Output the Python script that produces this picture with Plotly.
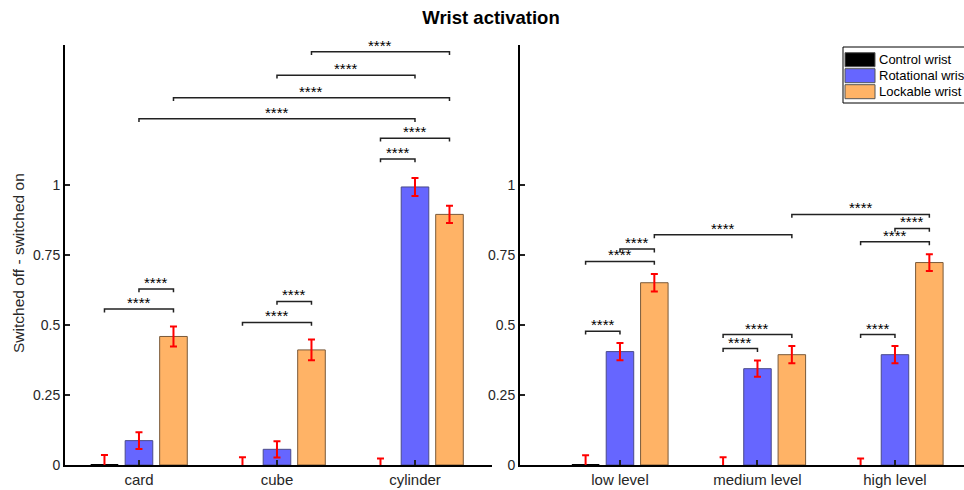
import plotly.graph_objects as go

# ---------------- data ----------------
left_categories = ["card", "cube", "cylinder"]
right_categories = ["low level", "medium level", "high level"]
series_names = ["Control wrist", "Rotational wrist", "Lockable wrist"]

left_control = [0.003, 0.0, 0.0]
left_control_err = [0.033, 0.028, 0.023]
left_rotational = [0.087, 0.056, 0.993]
left_rotational_err = [0.030, 0.029, 0.032]
left_lockable = [0.459, 0.411, 0.895]
left_lockable_err = [0.036, 0.037, 0.031]

right_control = [0.003, 0.0, 0.0]
right_control_err = [0.032, 0.028, 0.023]
right_rotational = [0.405, 0.344, 0.394]
right_rotational_err = [0.031, 0.029, 0.031]
right_lockable = [0.651, 0.394, 0.723]
right_lockable_err = [0.031, 0.031, 0.030]

# significance brackets: (group_a, series_a, group_b, series_b, height)
left_sig = [
    (2, 2, 3, 2, 1.476), (2, 1, 3, 1, 1.392), (1, 2, 3, 2, 1.312),
    (1, 1, 3, 1, 1.237), (3, 0, 3, 2, 1.167), (3, 0, 3, 1, 1.093),
    (1, 1, 1, 2, 0.629), (1, 0, 1, 2, 0.557), (2, 1, 2, 2, 0.584),
    (2, 0, 2, 2, 0.509),
]
right_sig = [
    (2, 2, 3, 2, 0.895), (3, 1, 3, 2, 0.845), (3, 0, 3, 2, 0.797),
    (1, 2, 2, 2, 0.822), (1, 1, 1, 2, 0.771), (1, 0, 1, 2, 0.727),
    (1, 0, 1, 1, 0.478), (2, 0, 2, 2, 0.466), (2, 0, 2, 1, 0.416),
    (3, 0, 3, 1, 0.466),
]
sig_label = "****"

y_tickvals = [0, 0.25, 0.5, 0.75, 1]
y_ticktext = ["0", "0.25", "0.5", "0.75", "1"]

# ---------------- styling ----------------
W, H = 964, 490
FONT = "Liberation Sans, Arial, sans-serif"
colors = ["#000000", "#6666FF", "#FFB366"]
edge_colors = ["#000000", "#4a4a8a", "#7a5a3a"]
edge_widths = [0, 1, 1]
offset = 0.25
bar_w = 0.2
tick_h = 0.012

fig = go.Figure()

panels = [
    ("x", "y", left_categories,
     [left_control, left_rotational, left_lockable],
     [left_control_err, left_rotational_err, left_lockable_err], left_sig),
    ("x2", "y2", right_categories,
     [right_control, right_rotational, right_lockable],
     [right_control_err, right_rotational_err, right_lockable_err], right_sig),
]

for xa, ya, cats, vals, errs, sigs in panels:
    groups = list(range(1, len(cats) + 1))
    for s in range(3):
        fig.add_trace(go.Bar(
            x=[g + (s - 1) * offset for g in groups], y=vals[s], width=bar_w,
            marker=dict(color=colors[s],
                        line=dict(color=edge_colors[s], width=edge_widths[s])),
            error_y=dict(type="data", array=errs[s], visible=True,
                         color="#FF0000", thickness=2, width=3.5),
            xaxis=xa, yaxis=ya, showlegend=False, name=series_names[s],
            hoverinfo="skip",
        ))
    for ga, sa, gb, sb, h in sigs:
        xa1 = ga + (sa - 1) * offset
        xb1 = gb + (sb - 1) * offset
        fig.add_trace(go.Scatter(
            x=[xa1, xa1, xb1, xb1], y=[h - tick_h, h, h, h - tick_h],
            mode="lines", line=dict(color="#222222", width=1.5),
            xaxis=xa, yaxis=ya, showlegend=False, hoverinfo="skip",
        ))
        fig.add_annotation(
            x=(xa1 + xb1) / 2, y=h, xref=xa, yref=ya, text=sig_label,
            showarrow=False, yanchor="bottom", yshift=-4,
            font=dict(family=FONT, size=15, color="#000000"),
        )

ydom = [(H - 465) / H, (H - 45) / H]
axis_common = dict(showline=True, linewidth=2, linecolor="#000000", showgrid=False,
                   zeroline=False, ticks="inside", ticklen=5, tickwidth=1.5,
                   tickcolor="#222222")
xfont = dict(family=FONT, size=15, color="#262626")
yfont = dict(family=FONT, size=14, color="#262626")

fig.update_layout(
    width=W, height=H, template="none",
    margin=dict(l=0, r=0, t=0, b=0),
    paper_bgcolor="white", plot_bgcolor="white",
    font=dict(family=FONT, color="#262626"),
    showlegend=False,
    xaxis=dict(domain=[65 / W, 492 / W], range=[0.464, 3.558], tickfont=xfont,
               tickvals=[1, 2, 3], ticktext=left_categories, anchor="y", **axis_common),
    yaxis=dict(domain=ydom, range=[0, 1.5], tickvals=y_tickvals, ticktext=y_ticktext,
               tickfont=yfont, anchor="x", **axis_common),
    xaxis2=dict(domain=[520 / W, 1.0], range=[0.273, 3.502], tickfont=xfont,
                tickvals=[1, 2, 3], ticktext=right_categories, anchor="y2", **axis_common),
    yaxis2=dict(domain=ydom, range=[0, 1.5], tickvals=y_tickvals, ticktext=y_ticktext,
                tickfont=yfont, anchor="x2", **axis_common),
    title=dict(text="<b>Wrist activation</b>", x=491 / W, xanchor="center",
               y=1 - 18 / H, yanchor="middle", xref="paper", yref="container",
               font=dict(family=FONT, size=18.5, color="#000000")),
)

# y-axis label
fig.add_annotation(text="Switched off - switched on", xref="paper", yref="paper",
                   x=18 / W, y=(H - 263) / H, textangle=-90, showarrow=False,
                   xanchor="center", yanchor="middle",
                   font=dict(family=FONT, size=15.5, color="#262626"))

# legend (drawn manually to mimic the clipped box)
fig.add_shape(type="rect", xref="paper", yref="paper",
              x0=843 / W, x1=1.05, y0=(H - 103) / H, y1=(H - 47) / H,
              line=dict(color="#000000", width=1), fillcolor="white", layer="above")
for i, (name, c) in enumerate(zip(series_names, colors)):
    yc = 59.7 + 16 * i
    fig.add_shape(type="rect", xref="paper", yref="paper",
                  x0=845 / W, x1=875 / W, y0=(H - yc - 7) / H, y1=(H - yc + 7) / H,
                  line=dict(color="#555555", width=1), fillcolor=c, layer="above")
    fig.add_annotation(text=name, xref="paper", yref="paper", x=877 / W,
                       y=(H - yc) / H, xanchor="left", yanchor="middle",
                       showarrow=False, font=dict(family=FONT, size=13, color="#000000"))

fig.write_html("out.html", config={"displayModeBar": False},
               post_script="document.body.style.margin='0';")
